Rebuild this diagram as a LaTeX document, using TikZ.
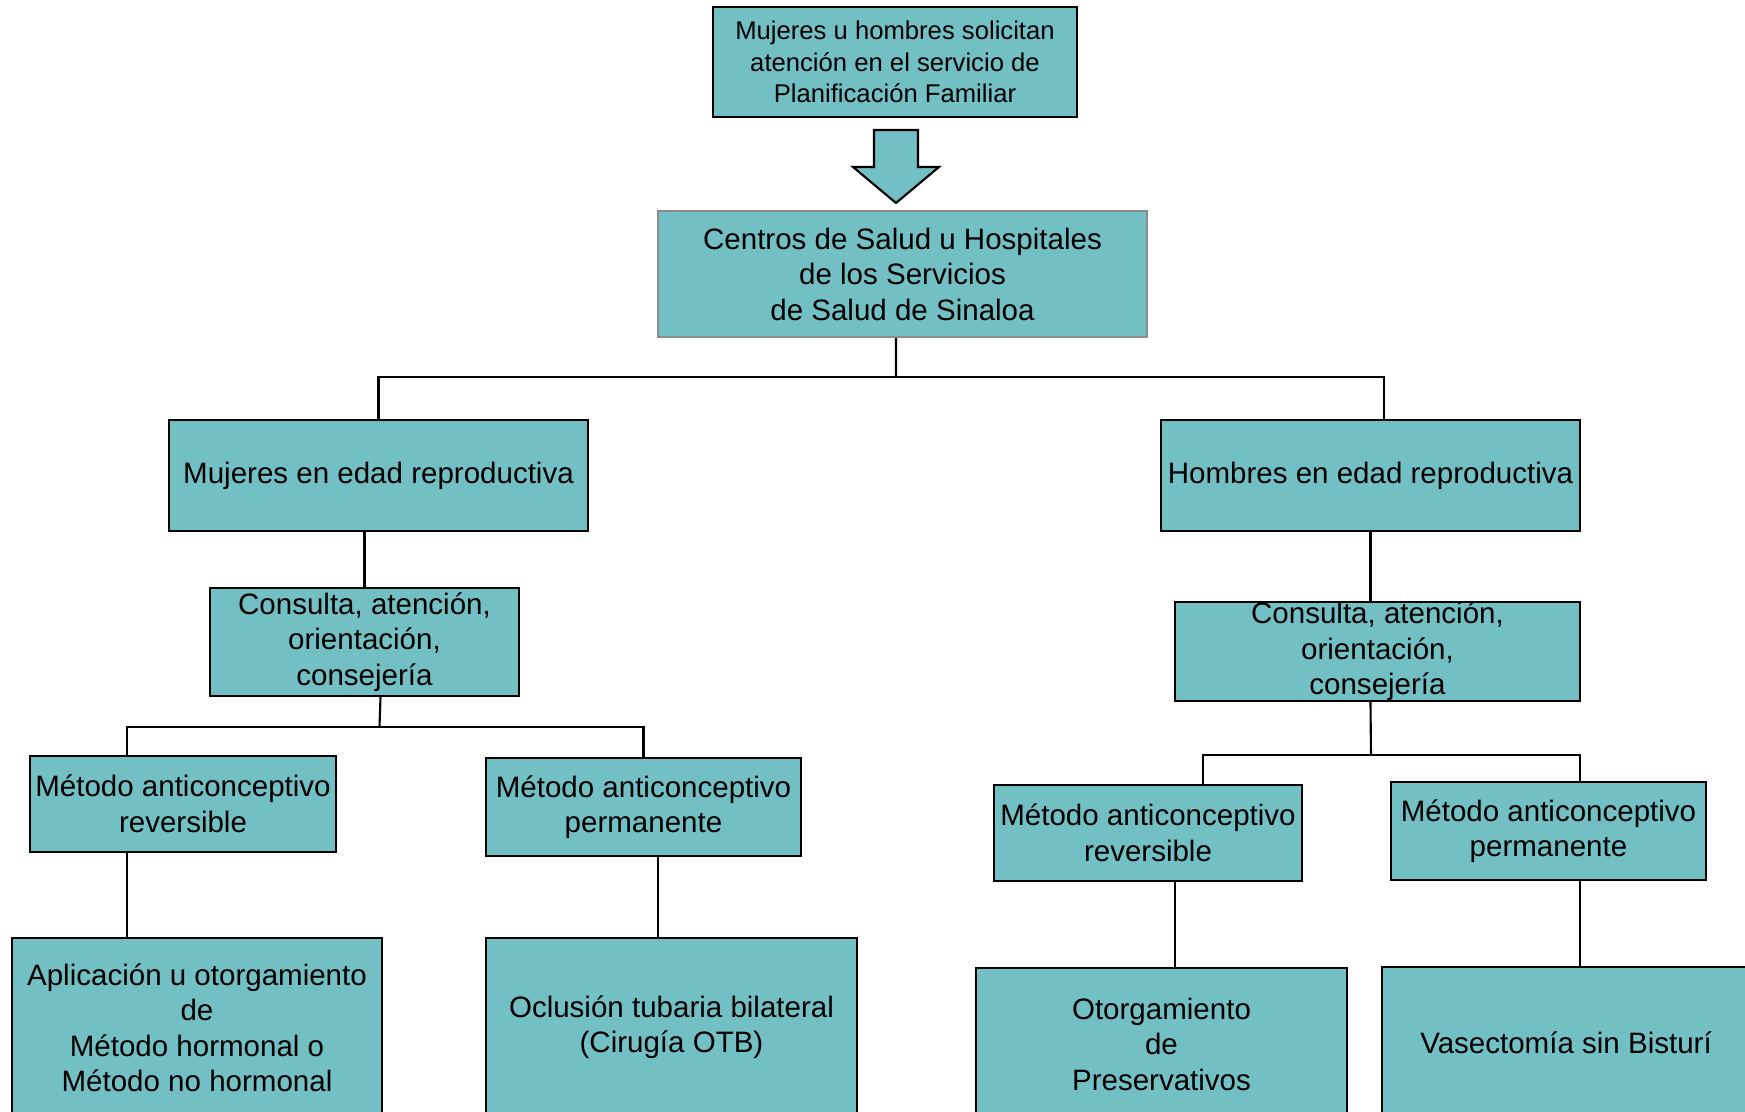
\documentclass[tikz,border=0pt]{standalone}
\usepackage{fontspec}
\setmainfont{Liberation Sans}
\definecolor{turquesa}{HTML}{72BFC4}
\definecolor{grisborde}{HTML}{8C8C8C}
\tikzset{
	caja/.style={draw, fill=turquesa, line width=0.7pt, align=center, inner sep=0pt,
		font=\fontsize{8.4}{10.1}\selectfont},
	linea/.style={line width=0.6pt}
}
\begin{document}
\begin{tikzpicture}
	\path[use as bounding box, clip] (0,0) rectangle (17.45,-11.12);
	% cajas superiores
	\node[caja, minimum width=3.64cm, minimum height=1.10cm,
		font=\fontsize{7.3}{9}\selectfont] (solicitan) at (8.95,-0.62)
		{Mujeres u hombres solicitan\\atención en el servicio de\\Planificación Familiar};
	\draw[fill=turquesa, line width=0.6pt] (8.74,-1.30) -- (9.18,-1.30) -- (9.18,-1.67) -- (9.39,-1.67)
		-- (8.96,-2.03) -- (8.53,-1.67) -- (8.74,-1.67) -- cycle;
	\node[caja, draw=grisborde, minimum width=4.89cm, minimum height=1.26cm] (centros) at (9.025,-2.74)
		{Centros de Salud u Hospitales\\de los Servicios\\de Salud de Sinaloa};
	\node[caja, minimum width=4.19cm, minimum height=1.11cm] (mujeres) at (3.785,-4.755)
		{Mujeres en edad reproductiva};
	\node[caja, minimum width=4.19cm, minimum height=1.11cm] (hombres) at (13.705,-4.755)
		{Hombres en edad reproductiva};
	% rama de mujeres
	\node[caja, minimum width=3.09cm, minimum height=1.08cm] (consultaM) at (3.645,-6.42)
		{Consulta, atención,\\orientación,\\consejería};
	\node[caja, minimum width=3.06cm, minimum height=0.96cm] (reversibleM) at (1.83,-8.04)
		{Método anticonceptivo\\reversible};
	\node[caja, minimum width=3.15cm, minimum height=0.98cm] (permanenteM) at (6.435,-8.07)
		{Método anticonceptivo\\permanente};
	\node[caja, minimum width=3.70cm, minimum height=1.80cm] (aplicacion) at (1.97,-10.28)
		{Aplicación u otorgamiento\\de\\Método hormonal o\\Método no hormonal};
	\node[caja, minimum width=3.71cm, minimum height=1.78cm] (oclusion) at (6.715,-10.27)
		{Oclusión tubaria bilateral\\(Cirugía OTB)};
	% rama de hombres
	\node[caja, minimum width=4.05cm, minimum height=0.99cm] (consultaH) at (13.775,-6.515)
		{Consulta, atención,\\orientación,\\consejería};
	\node[caja, minimum width=3.08cm, minimum height=0.96cm] (reversibleH) at (11.48,-8.33)
		{Método anticonceptivo\\reversible};
	\node[caja, minimum width=3.15cm, minimum height=0.98cm] (permanenteH) at (15.485,-8.31)
		{Método anticonceptivo\\permanente};
	\node[caja, minimum width=3.71cm, minimum height=1.52cm] (preservativos) at (11.615,-10.44)
		{Otorgamiento\\de\\Preservativos};
	\node[caja, minimum width=3.68cm, minimum height=1.52cm] (vasectomia) at (15.66,-10.43)
		{Vasectomía sin Bisturí};
	% conectores
	\coordinate (busC) at (8.96,-3.77);
	\coordinate (busM) at (3.795,-7.27);
	\coordinate (busH) at (13.71,-7.55);
	\draw[linea] ([xshift=-0.065cm]centros.south) -- (busC);
	\draw[linea] (mujeres.north) |- (busC) -| ([xshift=0.135cm]hombres.north);
	\draw[linea] (consultaM.north |- mujeres.south) -- (consultaM.north);
	\draw[linea] ([xshift=0.16cm]consultaM.south) -- (busM);
	\draw[linea] ([xshift=-0.56cm]reversibleM.north) |- (busM) -| (permanenteM.north);
	\draw[linea] ([xshift=-0.56cm]reversibleM.south) -- ([xshift=-0.56cm]reversibleM.south |- aplicacion.north);
	\draw[linea] ([xshift=0.145cm]permanenteM.south) -- ([xshift=0.145cm]permanenteM.south |- oclusion.north);
	\draw[linea] (hombres.south) -- (hombres.south |- consultaH.north);
	\draw[linea] (hombres.south |- consultaH.south) -- (busH);
	\draw[linea] ([xshift=0.55cm]reversibleH.north) |- (busH) -| ([xshift=0.315cm]permanenteH.north);
	\draw[linea] ([xshift=0.27cm]reversibleH.south) -- ([xshift=0.27cm]reversibleH.south |- preservativos.north);
	\draw[linea] ([xshift=0.315cm]permanenteH.south) -- ([xshift=0.315cm]permanenteH.south |- vasectomia.north);
\end{tikzpicture}
\end{document}
